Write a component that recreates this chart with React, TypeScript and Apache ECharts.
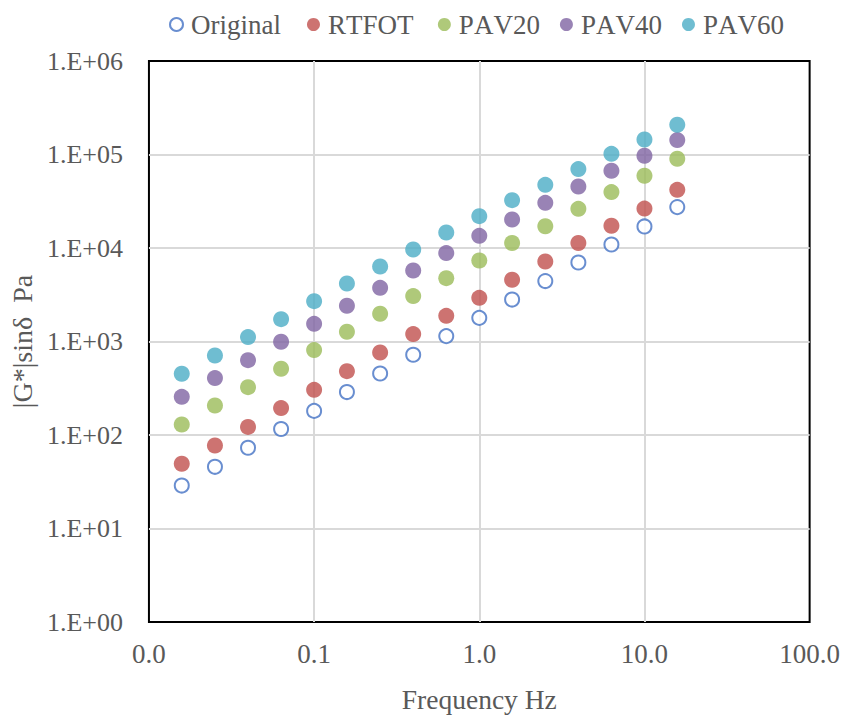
import React, { useEffect, useRef } from "react";
import * as echarts from "echarts";

const frequencies = [0.0158, 0.0251, 0.0398, 0.0631, 0.1, 0.158, 0.251, 0.398, 0.631, 1, 1.58, 2.51, 3.98, 6.31, 10, 15.8];
const original = [28.8, 45.7, 73, 116, 181, 288, 455, 721, 1143, 1790, 2810, 4430, 7000, 10900, 17000, 27400];
const rtfot = [49.2, 77.2, 122, 194, 304, 482, 763, 1200, 1880, 2930, 4570, 7170, 11300, 17300, 26400, 41900];
const pav20 = [129.5, 207, 325, 511, 809, 1270, 1980, 3060, 4760, 7350, 11300, 17100, 26250, 39600, 59200, 90000];
const pav40 = [256, 406, 632, 993, 1546, 2410, 3750, 5740, 8820, 13500, 20200, 30400, 45500, 67000, 96900, 142600];
const pav60 = [452, 708, 1114, 1735, 2700, 4170, 6340, 9640, 14650, 21900, 32500, 47400, 69800, 101600, 144600, 208000];
const seriesNames = ["Original", "RTFOT", "PAV20", "PAV40", "PAV60"];
const seriesColors = ["#4472C4", "#C0504D", "#9BBB59", "#8064A2", "#4BACC6"];

const FONT = "Liberation Serif";
const GREY = "#595959";

export default function App() {
  const ref = useRef<HTMLDivElement>(null);
  useEffect(() => {
    document.body.style.margin = "0";
    const chart = echarts.init(ref.current!, null, { renderer: "svg" });
    const all = [original, rtfot, pav20, pav40, pav60];
    const series = all.map((vals, i) => ({
      name: seriesNames[i],
      type: "scatter",
      symbol: "circle",
      symbolSize: i === 0 ? 14 : 16,
      data: frequencies.map((f, j) => [f, vals[j]]),
      itemStyle:
        i === 0
          ? { color: "#ffffff", borderColor: seriesColors[0], borderWidth: 2 }
          : { color: seriesColors[i] },
    }));
    chart.setOption({
      animation: false,
      textStyle: { fontFamily: FONT },
      legend: {
        top: 6,
        left: 164,
        itemWidth: 19,
        itemHeight: 13,
        itemGap: 26,
        icon: "circle",
        textStyle: { fontFamily: FONT, fontSize: 27, color: GREY },
        data: seriesNames,
      },
      grid: {
        left: 147,
        top: 61,
        right: 33,
        bottom: 94,
        show: true,
        borderColor: "#000000",
        borderWidth: 2,
        backgroundColor: "transparent",
      },
      xAxis: {
        type: "log",
        logBase: 10,
        min: 0.01,
        max: 100,
        name: "Frequency Hz",
        nameLocation: "middle",
        nameGap: 63,
        nameTextStyle: { fontFamily: FONT, fontSize: 27.5, color: GREY },
        axisLine: { show: false },
        axisTick: { show: false },
        splitLine: { show: true, showMinLine: false, showMaxLine: false, lineStyle: { color: "#D9D9D9", width: 2 } },
        axisLabel: {
          fontFamily: FONT,
          fontSize: 27,
          color: GREY,
          margin: 18,
          formatter: (v: number) => v.toFixed(1),
        },
      },
      yAxis: {
        type: "log",
        logBase: 10,
        min: 1,
        max: 1000000,
        name: "|G*|sinδ  Pa",
        nameLocation: "middle",
        nameGap: 112,
        nameTextStyle: { fontFamily: FONT, fontSize: 28, color: GREY },
        axisLine: { show: false },
        axisTick: { show: false },
        splitLine: { show: true, showMinLine: false, showMaxLine: false, lineStyle: { color: "#D9D9D9", width: 2 } },
        axisLabel: {
          fontFamily: FONT,
          fontSize: 26,
          color: GREY,
          margin: 26,
          formatter: (v: number) => {
            const e = Math.round(Math.log10(v));
            return "1.E+" + String(e).padStart(2, "0");
          },
        },
      },
      series,
    });
    return () => chart.dispose();
  }, []);
  return (
    <>
      <style>{`svg text { font-kerning: none; font-feature-settings: "kern" 0; }`}</style>
      <div ref={ref} style={{ width: 843, height: 718 }} />
    </>
  );
}
